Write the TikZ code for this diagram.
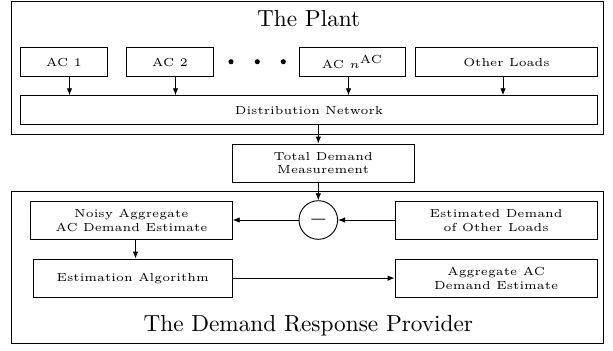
\documentclass[tikz,border=0pt]{standalone}
\usetikzlibrary{arrows.meta,calc}
\begin{document}
\begin{tikzpicture}[x=0.43pt,y=-0.43pt,
  box/.style={draw, line width=0.4pt, inner sep=0pt, font=\tiny, align=center},
  frame/.style={draw, line width=0.4pt, inner sep=0pt},
  sz/.style 2 args={minimum width={#1*0.43pt}, minimum height={#2*0.43pt}},
  arr/.style={-{Latex[length=3pt,width=2.4pt]}, line width=0.4pt},
  title/.style={font=\normalsize, anchor=base, inner sep=0pt}]
\useasboundingbox (0,0) rectangle (613,350);
% frames
\node[frame, sz={592}{133}] (plant) at (307,67.5) {};
\node[title] (plantt) at (308.7,26) {The Plant};
\node[frame, sz={592}{151.6}] (drp) at (307,267.5) {};
\node[title] (drpt) at (308.3,331.7) {The Demand Response Provider};
% plant boxes
\node[box, sz={87}{28.8}] (ac1) at (64,62.1) {AC 1};
\node[box, sz={87}{28.8}] (ac2) at (170,62.1) {AC 2};
\node[box, sz={106}{28.8}] (acn) at (352.5,62.1) {AC $n^{\mathrm{AC}}$};
\node[box, sz={182}{28.8}] (other) at (506.5,62.1) {Other Loads};
\node[box, sz={577}{28.8}] (dist) at (309,110.1) {Distribution Network};
\fill (231,61.7) circle[radius=1.1pt];
\fill (257.3,61.7) circle[radius=1.1pt];
\fill (283.3,61.7) circle[radius=1.1pt];
% measurement
\node[box, sz={182.3}{38}] (total) at (323.15,163) {Total Demand\\Measurement};
% provider
\node[draw, circle, line width=0.4pt, minimum size=16.6pt, inner sep=0pt] (minus) at (318.3,220) {$-$};
\node[box, sz={201.6}{37.6}] (noisy) at (131.5,220.5) {Noisy Aggregate\\AC Demand Estimate};
\node[box, sz={202.3}{37.6}] (estoth) at (496.15,220.5) {Estimated Demand\\of Other Loads};
\node[box, sz={199}{38.3}] (alg) at (132.8,278.15) {Estimation Algorithm};
\node[box, sz={202.3}{38.3}] (agg) at (496.15,278.15) {Aggregate AC\\Demand Estimate};
% arrows in plant
\draw[arr] ($(ac1.south)+(5.5,0)$) -- ($(ac1.south |- dist.north)+(5.5,0)$);
\draw[arr] ($(ac2.south)+(5.5,0)$) -- ($(ac2.south |- dist.north)+(5.5,0)$);
\draw[arr] ($(acn.south)+(-4,0)$) -- ($(acn.south |- dist.north)+(-4,0)$);
\draw[arr] ($(other.south)+(-3.5,0)$) -- ($(other.south |- dist.north)+(-3.5,0)$);
% flow
\draw[arr] (dist.south -| minus.north) -- (total.north -| minus.north);
\draw[arr] (total.south -| minus.north) -- (minus.north);
\draw[arr] (minus.west) -- (noisy.east |- minus.west);
\draw[arr] (estoth.west |- minus.east) -- (minus.east);
\draw[arr] ($(noisy.south)+(4,0)$) -- ($(noisy.south |- alg.north)+(4,0)$);
\draw[arr] (alg.east) -- (agg.west |- alg.east);
\end{tikzpicture}
\end{document}
